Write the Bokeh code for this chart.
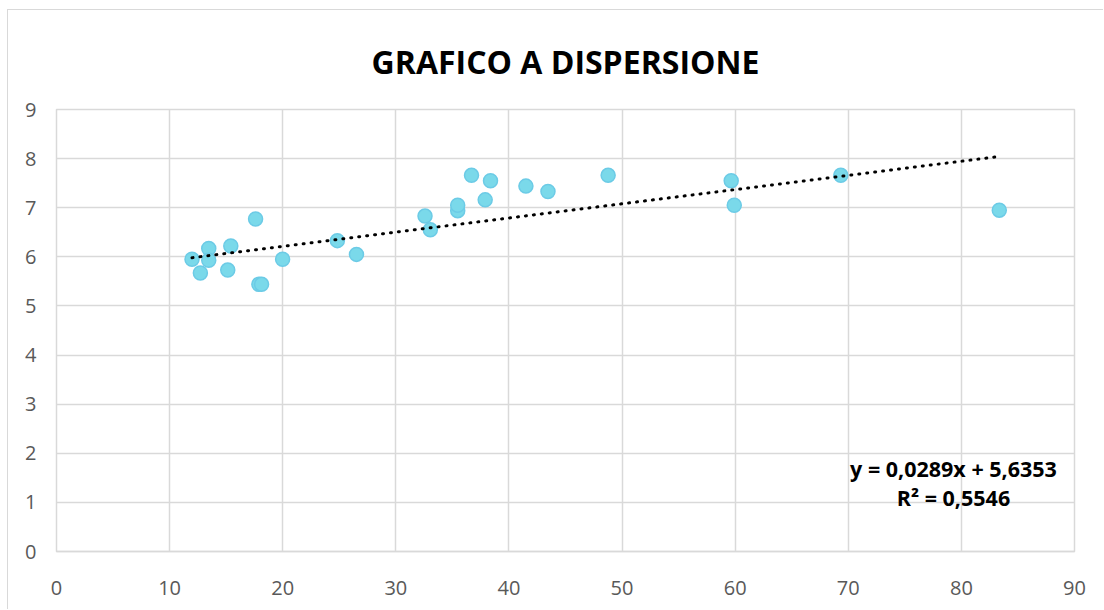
from bokeh.plotting import figure
from bokeh.models import ColumnDataSource, Label, FixedTicker, Range1d
from bokeh.embed import file_html
from bokeh.resources import INLINE

# ---- data ----
x_values = [11.98, 12.72, 13.46, 13.46, 15.14, 15.41, 17.60, 17.89, 18.13, 19.99,
            24.83, 26.52, 32.58, 33.05, 35.47, 35.47, 36.69, 37.90, 38.37, 41.50,
            43.45, 48.77, 59.65, 59.92, 69.34, 83.35]
y_values = [5.95, 5.67, 6.17, 5.93, 5.73, 6.22, 6.77, 5.44, 5.44, 5.95,
            6.33, 6.05, 6.83, 6.55, 6.94, 7.05, 7.66, 7.16, 7.55, 7.44,
            7.33, 7.66, 7.55, 7.05, 7.66, 6.95]
trend_slope = 0.0289
trend_intercept = 5.6353
r_squared = 0.5546
x_ticks = [0, 10, 20, 30, 40, 50, 60, 70, 80, 90]
y_ticks = [0, 1, 2, 3, 4, 5, 6, 7, 8, 9]
title_text = "GRAFICO A DISPERSIONE"

FONT = "Open Sans"
GRID = "#d9d9d9"

p = figure(width=1096, height=600, output_backend="svg", toolbar_location=None,
           x_range=Range1d(0, 90), y_range=Range1d(0, 9),
           min_border_left=48, min_border_right=30, min_border_top=99, min_border_bottom=59)
p.margin = (9, 0, 0, 7)
p.styles = {"border-left": "1px solid #d9d9d9", "border-top": "1px solid #d9d9d9"}

p.title.text = title_text
p.title.align = "center"
p.title.offset = -4
p.title.text_font = FONT
p.title.text_font_style = "bold"
p.title.text_font_size = "32px"
p.title.text_color = "black"
p.title.standoff = 53

p.background_fill_color = "white"
p.border_fill_color = "white"
p.outline_line_color = GRID
p.outline_line_width = 1.5

for ax in (p.xaxis[0], p.yaxis[0]):
    ax.major_tick_line_color = None
    ax.minor_tick_line_color = None
    ax.major_label_text_color = "#595959"
    ax.major_label_text_font = FONT
    ax.major_label_text_font_size = "20px"
p.xaxis[0].ticker = FixedTicker(ticks=x_ticks)
p.yaxis[0].ticker = FixedTicker(ticks=y_ticks)
p.xaxis[0].axis_line_color = GRID
p.xaxis[0].axis_line_width = 1.5
p.yaxis[0].axis_line_color = None
p.xaxis[0].major_label_standoff = 23
p.yaxis[0].major_label_standoff = 14

p.xgrid[0].ticker = FixedTicker(ticks=x_ticks)
p.ygrid[0].ticker = FixedTicker(ticks=y_ticks)
p.xgrid.grid_line_color = GRID
p.ygrid.grid_line_color = GRID
p.xgrid.grid_line_width = 1.5
p.ygrid.grid_line_width = 1.5

src = ColumnDataSource(dict(x=x_values, y=y_values))
p.scatter("x", "y", source=src, size=14, fill_color="#7ad9ea", line_color="#6ccbe6",
          line_width=1.5)

tx = [min(x_values), max(x_values)]
ty = [trend_slope * v + trend_intercept for v in tx]
p.line(tx, ty, line_color="black", line_width=3, line_dash="1 7", line_cap="round")

def fmt(v, d):
    return f"{v:.{d}f}".replace(".", ",")

eq1 = f"y = {fmt(trend_slope, 4)}x + {fmt(trend_intercept, 4)}"
eq2 = f"R\u00b2 = {fmt(r_squared, 4)}"
p.add_layout(Label(x=79.3, y=1.70, text=eq1, text_align="center", text_baseline="middle",
                   text_font=FONT, text_font_style="bold", text_font_size="21.5px",
                   text_color="black"))
p.add_layout(Label(x=79.3, y=1.09, text=eq2, text_align="center", text_baseline="middle",
                   text_font=FONT, text_font_style="bold", text_font_size="21.5px",
                   text_color="black"))

open("out.html", "w").write(file_html(p, INLINE))
